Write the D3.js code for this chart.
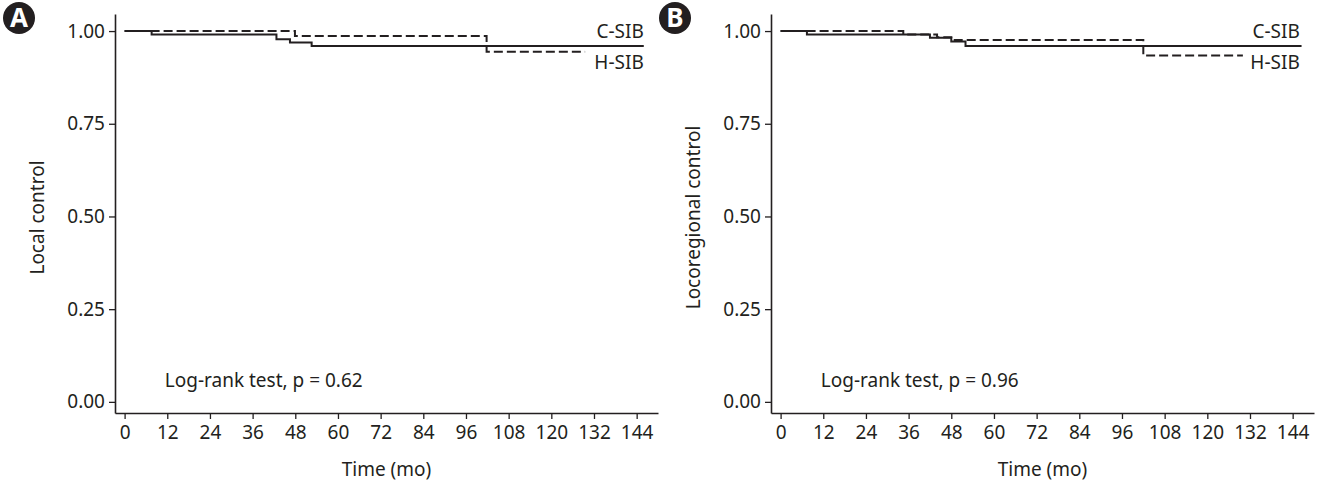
<!DOCTYPE html>
<html>
<head>
<meta charset="utf-8">
<script src="https://cdn.jsdelivr.net/npm/d3@7"></script>
<style>
  body { margin: 0; background: #fff; }
  svg text { font-family: "Noto Sans", sans-serif; fill: #231f20; }
</style>
</head>
<body>
<svg id="chart" width="1320" height="483"></svg>
<script>
// x ticks (months) and y ticks (proportion)
const timeTicks = [0, 12, 24, 36, 48, 60, 72, 84, 96, 108, 120, 132, 144];
const survTicks = [0, 0.25, 0.5, 0.75, 1];

// panel A - local control
const aSolidTime = [0, 7.6, 42.7, 46.5, 52.6, 146];
const aSolidSurv = [1, 0.991, 0.978, 0.969, 0.96, 0.96];
const aDashTime = [0, 47.9, 101.8, 129.5];
const aDashSurv = [1, 0.987, 0.944, 0.944];

// panel B - locoregional control
const bSolidTime = [0, 7.4, 42, 48, 52, 146.5];
const bSolidSurv = [1, 0.991, 0.982, 0.972, 0.96, 0.96];
const bDashTime = [0, 34.5, 44, 48, 102, 130];
const bDashSurv = [1, 0.991, 0.983, 0.976, 0.934, 0.934];

const panels = [
  { badge: "A", left: 115, ylab: "Local control", pval: "Log-rank test, p = 0.62",
    solid: d3.zip(aSolidTime, aSolidSurv), dash: d3.zip(aDashTime, aDashSurv) },
  { badge: "B", left: 771, ylab: "Locoregional control", pval: "Log-rank test, p = 0.96",
    solid: d3.zip(bSolidTime, bSolidSurv), dash: d3.zip(bDashTime, bDashSurv) }
];

const svg = d3.select("#chart");
const plotTop = 14, plotBottom = 413;
const fs = 19;

panels.forEach(p => {
  const right = p.left + 543;
  const x = d3.scaleLinear().domain([-2.7, 150]).range([p.left, right]);
  const y = d3.scaleLinear().domain([-0.03, 1.046]).range([plotBottom, plotTop]);
  const g = svg.append("g");

  // axes
  const xAxis = g.append("g")
    .attr("transform", "translate(0," + plotBottom + ")")
    .call(d3.axisBottom(x).tickValues(timeTicks).tickSize(6).tickPadding(7).tickSizeOuter(0));
  const yAxis = g.append("g")
    .attr("transform", "translate(" + p.left + ",0)")
    .call(d3.axisLeft(y).tickValues(survTicks).tickFormat(d3.format(".2f")).tickSize(6).tickPadding(4).tickSizeOuter(0));
  [xAxis, yAxis].forEach(a => {
    a.select(".domain").attr("stroke", "#231f20").attr("stroke-width", 1.6);
    a.selectAll(".tick line").attr("stroke", "#231f20").attr("stroke-width", 1.3);
    a.selectAll("text").attr("font-size", fs).attr("fill", "#231f20")
      .style("font-family", "'Noto Sans', sans-serif");
  });

  // axis titles
  g.append("text")
    .attr("x", (p.left + right) / 2).attr("y", 476)
    .attr("text-anchor", "middle").attr("font-size", fs)
    .text("Time (mo)");
  g.append("text")
    .attr("transform", "translate(" + (p.left - 71) + "," + ((plotTop + plotBottom) / 2 + 4) + ") rotate(-90)")
    .attr("text-anchor", "middle").attr("font-size", fs)
    .text(p.ylab);

  // curves
  const line = d3.line()
    .x(d => x(d[0])).y(d => y(d[1]))
    .curve(d3.curveStepAfter);
  g.append("path").datum(p.solid)
    .attr("d", line).attr("fill", "none")
    .attr("stroke", "#231f20").attr("stroke-width", 2);
  g.append("path").datum(p.dash)
    .attr("d", line).attr("fill", "none")
    .attr("stroke", "#231f20").attr("stroke-width", 2)
    .attr("stroke-dasharray", "9,4");

  // group labels
  g.append("text")
    .attr("x", x(146)).attr("y", 38)
    .attr("text-anchor", "end").attr("font-size", fs)
    .text("C-SIB");
  g.append("text")
    .attr("x", x(146)).attr("y", 69)
    .attr("text-anchor", "end").attr("font-size", fs)
    .text("H-SIB");

  // p value
  g.append("text")
    .attr("x", x(11.3)).attr("y", 387)
    .attr("font-size", fs)
    .text(p.pval);

  // panel badge
  const bx = p.left - 96, by = 18;
  g.append("circle").attr("cx", bx).attr("cy", by).attr("r", 16).attr("fill", "#231f20");
  g.append("text")
    .attr("x", bx).attr("y", by + 9)
    .attr("text-anchor", "middle").attr("font-size", 26).attr("font-weight", "bold")
    .style("fill", "#fff").attr("stroke", "#231f20").attr("stroke-width", 1.5)
    .attr("paint-order", "stroke")
    .text(p.badge);
});
</script>
</body>
</html>
